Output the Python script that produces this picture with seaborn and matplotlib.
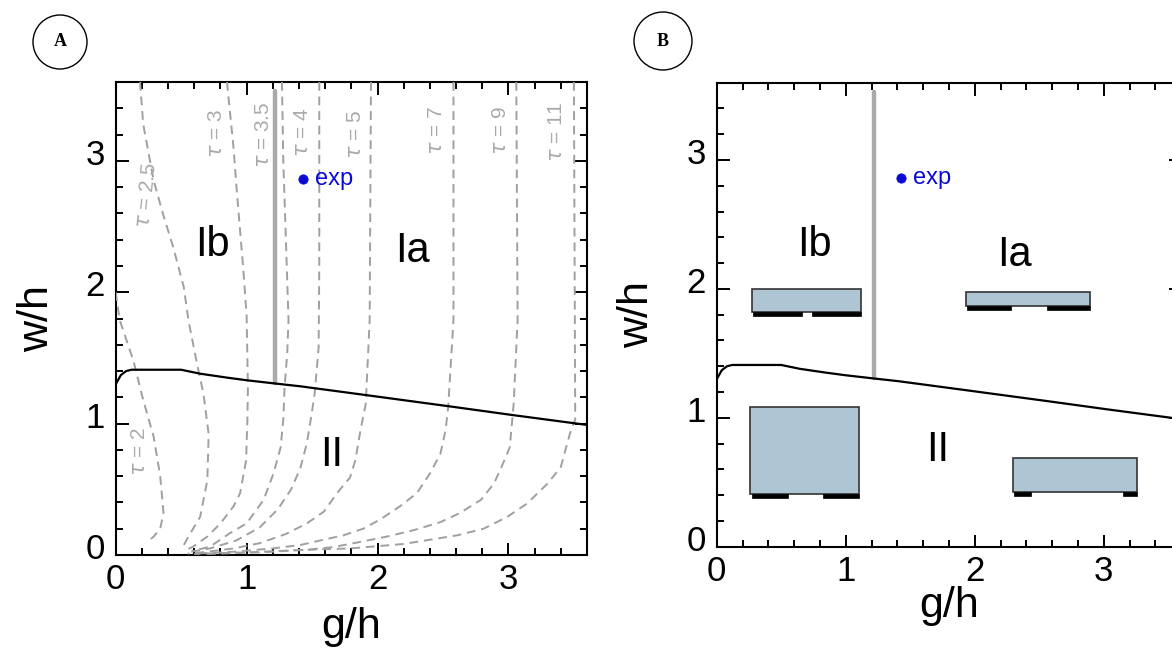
import numpy as np
import pandas as pd
import matplotlib
matplotlib.use("Agg")
import matplotlib.pyplot as plt
import seaborn as sns
from matplotlib.patches import Ellipse
from matplotlib.ticker import MultipleLocator
from matplotlib.transforms import ScaledTranslation

# ---------------- data ----------------
# boundary between regime I and II
bound_x = [0.0, 0.04, 0.08, 0.12, 0.50, 0.645, 0.85, 1.0, 1.22, 1.41, 1.92, 2.56, 3.04, 3.6]
bound_y = [1.30, 1.37, 1.40, 1.41, 1.41, 1.38, 1.35, 1.33, 1.305, 1.284, 1.216, 1.13, 1.064, 0.99]

# Ia / Ib separator (thick grey line)
sep_x = [1.22, 1.22]
sep_y = [1.31, 3.53]

# experiment point
exp_x = [1.43]
exp_y = [2.86]

# iso-tau curves (panel A)
tau2_x = [0.0, 0.03, 0.135, 0.21, 0.29, 0.34, 0.365, 0.34, 0.29, 0.24]
tau2_y = [2.0, 1.79, 1.48, 1.18, 0.90, 0.60, 0.32, 0.20, 0.14, 0.10]
tau25_x = [0.186, 0.21, 0.29, 0.36, 0.44, 0.52, 0.555, 0.62, 0.67, 0.71, 0.70, 0.645, 0.57, 0.50]
tau25_y = [3.6, 3.28, 2.85, 2.60, 2.34, 2.04, 1.79, 1.46, 1.23, 0.92, 0.57, 0.29, 0.165, 0.04]
tau3_x = [0.85, 0.90, 0.925, 0.95, 0.975, 1.0, 1.01, 1.006, 0.996, 0.95, 0.90, 0.80, 0.70, 0.59, 0.52]
tau3_y = [3.6, 3.10, 2.77, 2.47, 2.17, 1.82, 1.28, 1.03, 0.72, 0.47, 0.37, 0.24, 0.14, 0.063, 0.03]
tau35_x = [1.27, 1.28, 1.30, 1.32, 1.31, 1.29, 1.28, 1.26, 1.205, 1.13, 1.00, 0.87, 0.72, 0.58]
tau35_y = [3.6, 3.0, 2.4, 1.79, 1.53, 1.28, 1.03, 0.82, 0.62, 0.42, 0.24, 0.165, 0.063, 0.03]
tau4_x = [1.555, 1.555, 1.55, 1.52, 1.49, 1.46, 1.41, 1.34, 1.24, 1.10, 0.92, 0.72, 0.55]
tau4_y = [3.6, 2.2, 1.58, 1.23, 1.03, 0.85, 0.66, 0.50, 0.35, 0.21, 0.11, 0.05, 0.02]
tau5_x = [1.95, 1.94, 1.91, 1.87, 1.83, 1.79, 1.69, 1.59, 1.46, 1.30, 1.10, 0.90, 0.70, 0.55]
tau5_y = [3.6, 1.79, 1.15, 0.95, 0.72, 0.59, 0.47, 0.33, 0.24, 0.16, 0.09, 0.05, 0.025, 0.01]
tau7_x = [2.58, 2.58, 2.54, 2.52, 2.48, 2.40, 2.30, 2.17, 2.02, 1.89, 1.74, 1.56, 1.41, 1.20, 0.90, 0.60]
tau7_y = [3.6, 1.79, 1.13, 0.95, 0.77, 0.62, 0.47, 0.37, 0.27, 0.20, 0.15, 0.11, 0.076, 0.05, 0.025, 0.01]
tau9_x = [3.06, 3.07, 3.04, 3.01, 2.96, 2.89, 2.79, 2.63, 2.48, 2.28, 2.07, 1.87, 1.66, 1.46, 1.10, 0.70]
tau9_y = [3.6, 1.79, 1.15, 0.82, 0.70, 0.545, 0.42, 0.32, 0.25, 0.19, 0.14, 0.10, 0.06, 0.04, 0.02, 0.008]
tau11_x = [3.50, 3.51, 3.47, 3.40, 3.30, 3.14, 2.99, 2.81, 2.61, 2.20, 1.79, 1.41, 1.00, 0.60]
tau11_y = [3.6, 1.03, 0.925, 0.67, 0.545, 0.39, 0.29, 0.20, 0.15, 0.084, 0.05, 0.038, 0.02, 0.008]

tau_names = ["2", "2.5", "3", "3.5", "4", "5", "7", "9", "11"]
tau_label_x = [0.18, 0.237, 0.77, 1.13, 1.43, 1.83, 2.45, 2.94, 3.37]
tau_label_y = [0.79, 2.74, 3.21, 3.20, 3.22, 3.20, 3.23, 3.23, 3.22]
tau_label_rot = [90, 84, 90, 90, 90, 90, 90, 90, 90]

# schematic blocks in panel B
rect_x0 = [0.27, 0.258, 1.933, 2.30]
rect_x1 = [1.116, 1.105, 2.894, 3.26]
rect_y0 = [1.823, 0.409, 1.87, 0.427]
rect_y1 = [2.0, 1.086, 1.974, 0.691]
footL_x0 = [0.28, 0.27, 1.943, 2.305]
footL_x1 = [0.66, 0.555, 2.279, 2.44]
footR_x0 = [0.736, 0.826, 2.558, 3.147]
footR_x1 = [1.116, 1.105, 2.894, 3.26]

# region labels
regA_text = ["Ib", "Ia", "II"]
regA_x = [0.74, 2.27, 1.65]
regA_y = [2.36, 2.31, 0.76]
regB_x = [0.76, 2.31, 1.71]
regB_y = [2.34, 2.26, 0.75]

# ---------------- style ----------------
sns.set_style("ticks")
plt.rcParams['font.family'] = ['Liberation Sans', 'DejaVu Sans']
plt.rcParams['mathtext.fontset'] = 'dejavusans'
plt.rcParams['text.color'] = 'black'
plt.rcParams['axes.labelcolor'] = 'black'
plt.rcParams['xtick.color'] = 'black'
plt.rcParams['ytick.color'] = 'black'
plt.rcParams['xtick.labelcolor'] = 'black'
plt.rcParams['ytick.labelcolor'] = 'black'

W, H = 1172, 648
fig = plt.figure(figsize=(W / 100, H / 100), dpi=100)
axA = fig.add_axes([115.7 / W, 1 - 555 / H, 471.3 / W, 473 / H])
axB = fig.add_axes([716.7 / W, 1 - 546.7 / H, 464.4 / W, 464 / H])

GRAY = "#a0a0a0"
SEP = "#aaaaaa"
BLUE = "#0a0ad2"


def style_axes(ax):
    ax.set_xlim(0, 3.6)
    ax.set_ylim(0, 3.6)
    ax.xaxis.set_major_locator(MultipleLocator(1))
    ax.yaxis.set_major_locator(MultipleLocator(1))
    ax.xaxis.set_minor_locator(MultipleLocator(0.2))
    ax.yaxis.set_minor_locator(MultipleLocator(0.2))
    ax.tick_params(which='both', direction='in', top=True, right=True,
                   width=1.4, color='black')
    ax.tick_params(which='major', length=9, labelsize=25, pad=6)
    ax.tick_params(which='minor', length=5)
    ax.tick_params(axis='y', which='major', pad=8)
    for s in ax.spines.values():
        s.set_linewidth(1.5)
        s.set_color('black')
        s.set_visible(True)
    ax.set_xlabel("g/h", fontsize=31, color='black')
    ax.set_ylabel("w/h", fontsize=31, color='black')
    # y tick labels sit a little above their ticks in the reference
    off = ScaledTranslation(0, 9 / 100, fig.dpi_scale_trans)
    for tk in ax.yaxis.get_major_ticks():
        tk.label1.set_transform(tk.label1.get_transform() + off)


def common(ax):
    sns.lineplot(x=bound_x, y=bound_y, sort=False, estimator=None, ax=ax,
                 color='black', lw=1.6, zorder=5)
    sns.lineplot(x=sep_x, y=sep_y, sort=False, estimator=None, ax=ax,
                 color=SEP, lw=3.2, zorder=4)
    sns.scatterplot(x=exp_x, y=exp_y, ax=ax, color=BLUE, s=45,
                    edgecolor=BLUE, zorder=6)
    ax.text(exp_x[0] + 0.09, exp_y[0], "exp", color=BLUE, fontsize=17,
            ha='left', va='center')


# ---------- panel A ----------
curves = [(tau2_x, tau2_y), (tau25_x, tau25_y), (tau3_x, tau3_y),
          (tau35_x, tau35_y), (tau4_x, tau4_y), (tau5_x, tau5_y),
          (tau7_x, tau7_y), (tau9_x, tau9_y), (tau11_x, tau11_y)]
for cx, cy in curves:
    sns.lineplot(x=cx, y=cy, sort=False, estimator=None, ax=axA,
                 color=GRAY, lw=1.4, linestyle=(0, (4.5, 3)), zorder=3)
for name, lx, ly, rot in zip(tau_names, tau_label_x, tau_label_y, tau_label_rot):
    axA.text(lx, ly, r"$\tau$ = " + name, color="#aaaaaa", fontsize=15,
             rotation=rot, ha='center', va='center', zorder=3)
common(axA)
for t, x, y in zip(regA_text, regA_x, regA_y):
    axA.text(x, y, t, fontsize=30, ha='center', va='center', zorder=7,
             color='black')
style_axes(axA)
axA.xaxis.set_label_coords(0.5, -0.11)
axA.yaxis.set_label_coords(-0.125, 0.5)

# ---------- panel B ----------
common(axB)
hts = [b - a for a, b in zip(rect_y0, rect_y1)]
wds = [b - a for a, b in zip(rect_x0, rect_x1)]
axB.bar(rect_x0, hts, width=wds, bottom=rect_y0, align='edge',
        color="#aec6d4", edgecolor="#333333", linewidth=1.2, zorder=3)
fh = 0.03
axB.bar(footL_x0, [fh] * 4, width=[b - a for a, b in zip(footL_x0, footL_x1)],
        bottom=[y - fh for y in rect_y0], align='edge', color='black',
        edgecolor='black', linewidth=0.5, zorder=4)
axB.bar(footR_x0, [fh] * 4, width=[b - a for a, b in zip(footR_x0, footR_x1)],
        bottom=[y - fh for y in rect_y0], align='edge', color='black',
        edgecolor='black', linewidth=0.5, zorder=4)
for t, x, y in zip(regA_text, regB_x, regB_y):
    axB.text(x, y, t, fontsize=30, ha='center', va='center', zorder=7,
             color='black')
style_axes(axB)
axB.xaxis.set_label_coords(0.5, -0.085)
axB.yaxis.set_label_coords(-0.128, 0.5)

# ---------- panel tags ----------
for cx, cy, r, lab in [(60, 42, 27, "A"), (663, 41, 29, "B")]:
    fig.add_artist(Ellipse((cx / W, 1 - cy / H), width=2 * r / W, height=2 * r / H,
                           transform=fig.transFigure, fill=False, lw=1.0,
                           edgecolor='black'))
    fig.text(cx / W, 1 - cy / H, lab, ha='center', va='center', fontsize=13,
             family='Liberation Serif', weight='bold', color='black')

fig.savefig("out.png", dpi=100)
